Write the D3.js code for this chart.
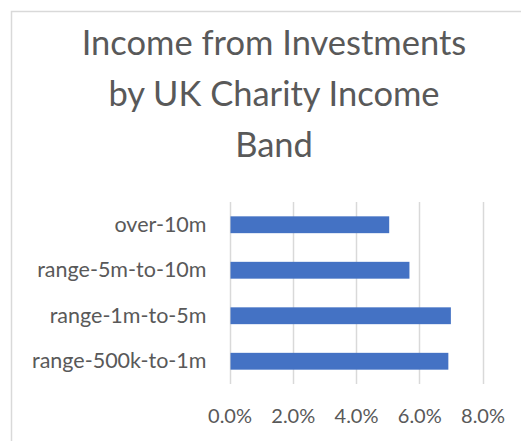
<!DOCTYPE html>
<html>
<head>
<meta charset="utf-8">
<script src="https://cdn.jsdelivr.net/npm/d3@7"></script>
<style>
  html, body { margin: 0; padding: 0; background: #fff; }
  svg { display: block; font-family: Lato, "Open Sans", sans-serif; }
</style>
</head>
<body>
<div id="chart"></div>
<script>
// Horizontal bar chart, Excel look. Categories listed top to bottom.
const categories = ["over-10m", "range-5m-to-10m", "range-1m-to-5m", "range-500k-to-1m"];
const values = [0.0505, 0.0569, 0.0700, 0.0692];
const tickValues = [0, 0.02, 0.04, 0.06, 0.08];
const titleLines = ["Income from Investments", "by UK Charity Income", "Band"];

const width = 521;
const height = 441;
const textColor = "#595959";
const gridColor = "#d9d9d9";
const barColor = "#4472c4";

const svg = d3.select("#chart").append("svg")
    .attr("width", width)
    .attr("height", height);

// chart frame, runs off the right and bottom edges
svg.append("rect")
    .attr("x", 11.5)
    .attr("y", 11.5)
    .attr("width", width + 20)
    .attr("height", height + 20)
    .attr("fill", "#fff")
    .attr("stroke", gridColor)
    .attr("stroke-width", 1.5);

svg.append("g")
    .selectAll("text")
    .data(titleLines)
    .join("text")
    .attr("x", 274)
    .attr("y", (d, i) => 55 + i * 51)
    .attr("text-anchor", "middle")
    .attr("fill", textColor)
    .attr("font-size", 34.5)
    .text(d => d);

const plot = { left: 229.5, right: 482.5, top: 202, bottom: 384 };

const x = d3.scaleLinear()
    .domain([0, 0.08])
    .range([plot.left, plot.right]);

const y = d3.scaleBand()
    .domain(categories)
    .range([plot.top, plot.bottom])
    .paddingInner(0.63)
    .paddingOuter(0.315);

svg.append("g")
    .selectAll("line")
    .data(tickValues)
    .join("line")
    .attr("x1", d => Math.round(x(d)) + 0.5)
    .attr("x2", d => Math.round(x(d)) + 0.5)
    .attr("y1", plot.top)
    .attr("y2", plot.bottom)
    .attr("stroke", gridColor)
    .attr("stroke-width", 1.5);

svg.append("g")
    .selectAll("rect")
    .data(categories)
    .join("rect")
    .attr("x", x(0) + 1)
    .attr("y", d => y(d))
    .attr("width", (d, i) => x(values[i]) - x(0) - 1)
    .attr("height", y.bandwidth())
    .attr("fill", barColor);

const xAxis = svg.append("g")
    .attr("transform", `translate(0,${plot.bottom})`)
    .call(d3.axisBottom(x).tickValues(tickValues).tickFormat(d3.format(".1%")).tickSize(0).tickPadding(25))
    .attr("font-family", null)
    .attr("font-size", 20);
xAxis.select(".domain").remove();
xAxis.selectAll("text").attr("fill", textColor);

const yAxis = svg.append("g")
    .attr("transform", `translate(${plot.left - 23},0)`)
    .call(d3.axisLeft(y).tickSize(0).tickPadding(0))
    .attr("font-family", null)
    .attr("font-size", 21.5);
yAxis.select(".domain").remove();
yAxis.selectAll("text").attr("fill", textColor);
</script>
</body>
</html>
